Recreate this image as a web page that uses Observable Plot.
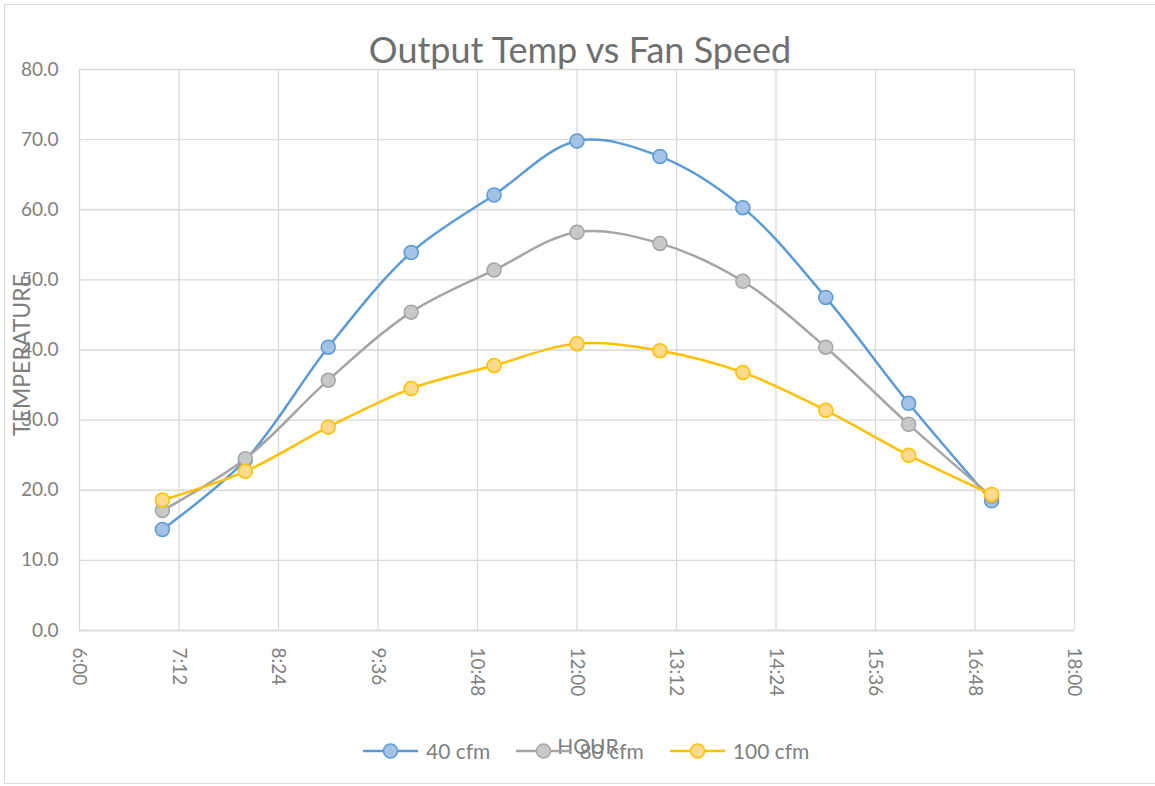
<!DOCTYPE html>
<html>
<head>
<meta charset="utf-8">
<script src="https://cdn.jsdelivr.net/npm/d3@7"></script>
<script src="https://cdn.jsdelivr.net/npm/@observablehq/plot@0.6"></script>
<style>
  html, body { margin: 0; padding: 0; background: #fff; }
  #wrap { position: relative; width: 1155px; height: 786px; overflow: hidden; font-family: Lato, "Open Sans", sans-serif; }
  #frame { position: absolute; left: 4px; top: 4px; width: 1160px; height: 780px; border: 1px solid #d9d9d9; box-sizing: border-box; pointer-events: none; }
  #title { position: absolute; left: 0; width: 1160px; top: 27px; text-align: center; font-size: 36px; line-height: 44px; color: #6f6f6f; }
  #ytitle { position: absolute; left: 21px; top: 355px; transform: translate(-50%, -50%) rotate(-90deg); font-size: 23px; color: #7f7f7f; white-space: nowrap; }
  #xtitle { position: absolute; left: 588px; top: 745px; transform: translate(-50%, -50%); font-size: 21px; color: #7f7f7f; white-space: nowrap; }
  #legend { position: absolute; top: 738px; left: 363px; display: flex; align-items: center; font-size: 21px; color: #7f7f7f; }
  .item { display: flex; align-items: center; margin-right: 26px; }
  .item svg { margin-right: 8px; }
  svg.plot { position: absolute; left: 0; top: 0; }
</style>
</head>
<body>
<div id="wrap">
  <div id="chart"></div>
  <div id="frame"></div>
  <div id="title"></div>
  <div id="ytitle"></div>
  <div id="xtitle"></div>
  <div id="legend"></div>
</div>
<script>
// ---- data ----
const titleText = "Output Temp vs Fan Speed";
const xTitle = "HOUR";
const yTitle = "TEMPERATURE";
const hours = [7, 8, 9, 10, 11, 12, 13, 14, 15, 16, 17];
const seriesNames = ["40 cfm", "80 cfm", "100 cfm"];
const cfm40 = [14.4, 24.3, 40.4, 53.9, 62.1, 69.8, 67.6, 60.3, 47.5, 32.4, 18.5];
const cfm80 = [17.1, 24.5, 35.7, 45.4, 51.4, 56.8, 55.2, 49.8, 40.4, 29.4, 19.1];
const cfm100 = [18.6, 22.7, 29.0, 34.5, 37.8, 40.9, 39.9, 36.8, 31.4, 25.0, 19.4];
const lineColors = ["#5b9bd5", "#a5a5a5", "#ffc000"];
const fillColors = ["#a3c2e6", "#c8c8c8", "#ffd98c"];
const xTickHours = [6, 7.2, 8.4, 9.6, 10.8, 12, 13.2, 14.4, 15.6, 16.8, 18];
const xTickLabels = ["6:00", "7:12", "8:24", "9:36", "10:48", "12:00", "13:12", "14:24", "15:36", "16:48", "18:00"];
const yTicks = [0, 10, 20, 30, 40, 50, 60, 70, 80];

const allSeries = [cfm40, cfm80, cfm100];
const rows = [];
seriesNames.forEach((s, i) => hours.forEach((h, j) => rows.push({series: s, hour: h, temp: allSeries[i][j]})));

const tickLabel = new Map(xTickHours.map((h, i) => [h, xTickLabels[i]]));
const gridColor = "#d9d9d9";
const textColor = "#808080";

const chart = Plot.plot({
  width: 1155,
  height: 786,
  marginLeft: 79,
  marginRight: 81,
  marginTop: 69,
  marginBottom: 156,
  style: {fontFamily: "Lato, 'Open Sans', sans-serif", fontSize: "18px", color: textColor, background: "transparent"},
  x: {domain: [6, 18], label: null},
  y: {domain: [0, 80], label: null},
  color: {domain: seriesNames, range: lineColors},
  marks: [
    Plot.gridX(xTickHours, {stroke: gridColor, strokeOpacity: 1, strokeWidth: 1.3}),
    Plot.gridY(yTicks, {stroke: gridColor, strokeOpacity: 1, strokeWidth: 1.3}),
    Plot.ruleY([0], {stroke: gridColor, strokeWidth: 1.5}),
    Plot.axisY(yTicks, {tickSize: 0, tickPadding: 21, tickFormat: d => d.toFixed(1), fontSize: 19, fill: textColor, label: null}),
    Plot.axisX(xTickHours, {tickSize: 0, tickPadding: 17, tickRotate: 90, tickFormat: d => tickLabel.get(d), fontSize: 19, fill: textColor, label: null}),
    Plot.line(rows, {x: "hour", y: "temp", z: "series", stroke: "series", strokeWidth: 2.5, curve: "catmull-rom"}),
    Plot.dot(rows, {x: "hour", y: "temp", r: 7, stroke: "series", strokeWidth: 1.5,
      fill: d => fillColors[seriesNames.indexOf(d.series)]})
  ]
});
document.getElementById("chart").appendChild(chart);

document.getElementById("title").textContent = titleText;
document.getElementById("xtitle").textContent = xTitle;
document.getElementById("ytitle").textContent = yTitle;

const legend = document.getElementById("legend");
seriesNames.forEach((s, i) => {
  const item = document.createElement("div");
  item.className = "item";
  item.innerHTML = `<svg width="55" height="20"><line x1="0" y1="10" x2="55" y2="10" stroke="${lineColors[i]}" stroke-width="2.5"/><circle cx="27.5" cy="10" r="7" fill="${fillColors[i]}" stroke="${lineColors[i]}" stroke-width="1.5"/></svg><span>${s}</span>`;
  legend.appendChild(item);
});
</script>
</body>
</html>
